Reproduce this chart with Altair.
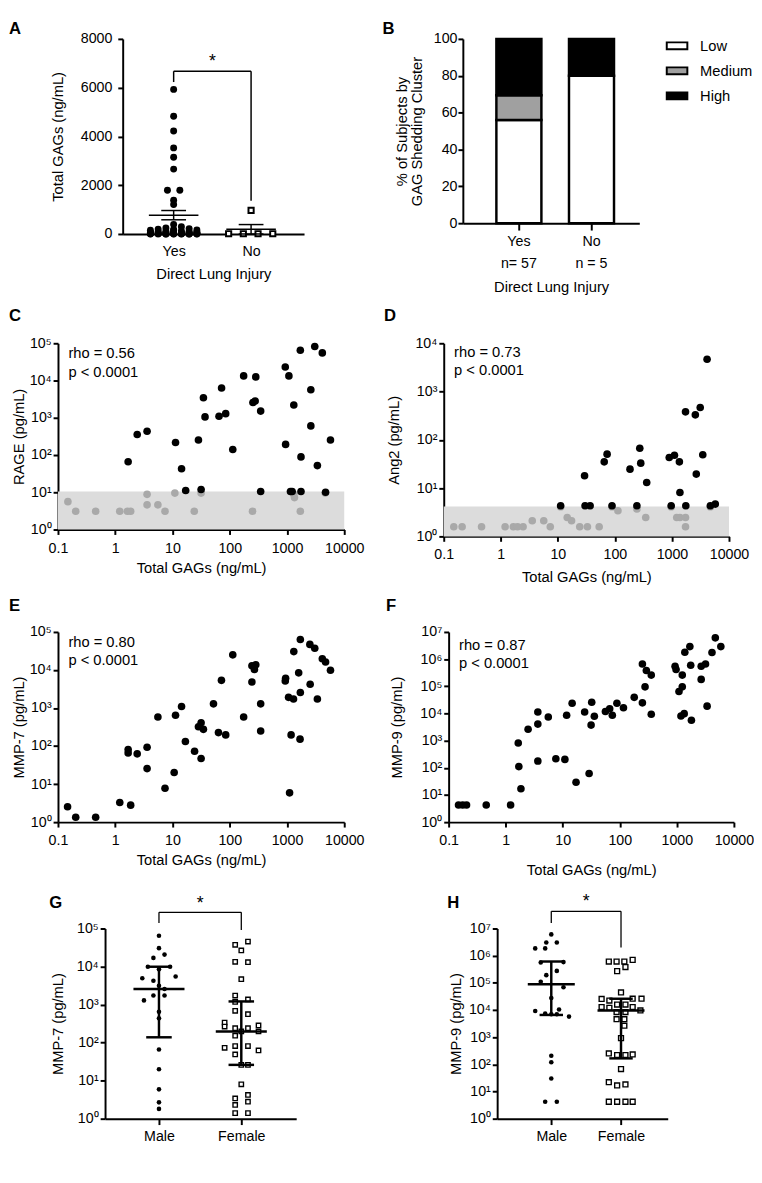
import altair as alt
import pandas as pd

FONT = "Liberation Sans"
LAB = 14.5
TIT = 15
LET = 17

SUP = ["\u2070", "\u00b9", "\u00b2", "\u00b3", "\u2074", "\u2075", "\u2076", "\u2077"]
POW_EXPR = "'10' + [" + ",".join("'%s'" % s for s in SUP) + "][round(log(datum.value) / LN10)]"

X_TICKS = [0.1, 1, 10, 100, 1000, 10000]
Y4_TICKS = [1, 10, 100, 1000, 10000]
Y5_TICKS = [1, 10, 100, 1000, 10000, 100000]
Y7_TICKS = [1, 10, 100, 1000, 10000, 100000, 1000000, 10000000]

# ---------------- Panel A: Total GAGs by direct lung injury ----------------
A_groups = ["Yes", "No"]
A_yes_gags = [5930, 4830, 4220, 3530, 3150, 2660, 1790, 1790, 1380, 1210, 390,
              300, 250, 220, 200, 180, 160, 150, 140, 120, 110,
              100, 90, 80, 70, 65, 60, 55, 50, 45, 40,
              36, 32, 30, 28, 25, 22, 20, 18, 16, 14,
              12, 11, 10, 8, 7, 6, 5, 4, 3.6, 3,
              2.4, 1.9, 1.7, 1.2, 0.5, 0.2]
A_yes_slot = [0, 0, 0, 0, 0, 0, -0.8, 0.8, 0, 0, 0,
              1, -1, 2, -2, 0, 3, -3,
              0, 1, -1, 2, -2, 3, -3,
              0, 1, -1, 2, -2, 3, -3,
              0, 1, -1, 2, -2, 3, -3,
              0, 1, -1, 2, -2, 3, -3,
              0, 1, -1, 2, -2, 3, -3,
              0, 1, -1, 2]
A_no_gags = [965, 10, 10, 10, 10]
A_no_slot = [0, -2.9, -1.0, 0.9, 2.8]
A_mean = [772, 193]
A_sem = [190, 193]
A_bracket_top = 6673
A_bracket_ends = [6231, 1367]
A_star_y = 7035

# ---------------- Panel B: GAG shedding cluster ----------------
B_groups = ["Yes", "No"]
B_n_labels = ["n= 57", "n = 5"]
B_clusters = ["Low", "Medium", "High"]
B_yes_pct = [56.0, 13.4, 30.6]
B_no_pct = [80.0, 0.0, 20.0]
B_colors = ["#ffffff", "#a0a0a0", "#000000"]

# ---------------- Panel C: RAGE vs Total GAGs ----------------
C_blk_gag = [1.68, 2.42, 3.6, 11.3, 14.4, 17, 28.4, 31.6, 34.7, 37,
             65, 85, 72, 113, 175, 254, 278, 285, 347, 347,
             933, 946, 1080, 1150, 1230, 1315, 1710, 1756, 1756, 2610,
             2610, 3055, 3395, 4140, 4720, 5750]
C_blk_rage = [66, 356, 434, 217, 43, 11.2, 254, 11.9, 3465, 1057,
              1100, 1290, 6280, 141, 13300, 2570, 2820, 12500, 1510, 10.5,
              23100, 193, 13300, 10.5, 10.5, 2200, 64700, 89, 10.5, 5680,
              605, 82000, 52, 55200, 10, 254]
C_gry_gag = [0.149, 0.204, 0.455, 1.2, 1.63, 1.86, 3.6, 3.6, 5.56, 7.4,
             11, 24, 31.6, 250, 1315, 1350, 1710, 4660]
C_gry_rage = [5.6, 3.1, 3.1, 3.1, 3.1, 3.1, 8.8, 4.6, 4.6, 3.1,
              9.5, 3.1, 9.5, 3.1, 8.8, 7.2, 3.1, 9.5]
C_lod = 10.5
C_rho = ["rho = 0.56", "p < 0.0001"]
C_rho_y = [54600, 17300]

# ---------------- Panel D: Ang2 vs Total GAGs ----------------
D_blk_gag = [11.2, 29.4, 30, 36.8, 65, 73, 89, 184, 243, 273,
             284, 361, 896, 969, 1106, 1350, 1380, 1730, 1750, 2570,
             2670, 3130, 3470, 4130, 4710, 5750]
D_blk_ang2 = [4.3, 18, 4.3, 4.3, 35, 50.5, 4.3, 24.7, 4.3, 67,
              32.9, 13.1, 43, 4.3, 48, 35, 8.1, 380, 4.3, 329,
              19.5, 467, 49, 4670, 4.3, 4.67]
D_gry_gag = [0.15, 0.21, 0.46, 1.19, 1.66, 1.97, 2.46, 3.56, 5.66, 7.37,
             11.2, 14.6, 17.4, 24.2, 33, 53, 89, 113, 243, 347,
             969, 1213, 1380, 1730, 1730, 4710]
D_gry_ang2 = [1.58, 1.58, 1.58, 1.58, 1.58, 1.58, 1.58, 2.11, 2.11, 1.58,
              4.1, 2.47, 2.11, 1.58, 1.58, 1.58, 4.1, 3.4, 3.68, 2.47,
              4.1, 2.47, 2.47, 2.47, 1.58, 4.1]
D_lod = 4.17
D_rho = ["rho = 0.73", "p < 0.0001"]
D_rho_y = [6560, 2830]

# ---------------- Panel E: MMP-7 vs Total GAGs ----------------
E_gag = [0.147, 0.204, 0.455, 1.2, 1.68, 1.68, 1.86, 2.42, 3.6, 3.6,
         5.56, 7.4, 10.7, 11.3, 14.4, 16.8, 24.3, 28.4, 31.6, 31.6,
         34.7, 52, 63.5, 71.6, 85, 113, 175, 244, 244, 270,
         285, 347, 347, 933, 946, 1065, 1110, 1180, 1300, 1315,
         1600, 1690, 1710, 1710, 2510, 2540, 3055, 3395, 4140, 4720,
         5750]
E_mmp7 = [2.53, 1.35, 1.35, 3.28, 80.7, 66, 2.8, 62.5, 92.8, 25.6,
          584, 7.8, 20.2, 644, 1100, 132, 73, 323, 409, 47,
          275, 1290, 226, 5350, 197, 25000, 584, 4850, 13000, 10300,
          13800, 1290, 249, 5150, 6030, 1910, 5.9, 197, 1730, 30500,
          8430, 152, 63400, 2570, 47200, 4220, 37200, 1730, 19800, 16200,
          9890]
E_rho = ["rho = 0.80", "p < 0.0001"]
E_rho_y = [55200, 17900]

# ---------------- Panel F: MMP-9 vs Total GAGs ----------------
F_gag = [0.149, 0.176, 0.206, 0.456, 1.22, 1.66, 1.7, 1.85, 2.47, 3.66,
         3.66, 3.66, 5.58, 7.57, 10.9, 11.7, 14.6, 17.1, 24.2, 29,
         31.4, 32.2, 35.8, 56, 66.5, 74, 89, 116, 179, 249,
         249, 277, 292, 356, 356, 931, 969, 1090, 1180, 1245,
         1245, 1346, 1380, 1690, 1750, 1800, 2670, 2670, 3180, 3390,
         4130, 4720, 5900]
F_mmp9 = [4.3, 4.3, 4.3, 4.3, 4.3, 815, 111, 16.9, 2610, 4060,
          11300, 177, 7460, 215, 204, 8570, 23900, 29.3, 11300, 62,
          3730, 25900, 7890, 11900, 14900, 8570, 23900, 16200, 39300, 24600,
          664000, 95500, 381000, 259000, 9310, 546000, 414000, 64700, 8110, 95500,
          259000, 9840, 1800000, 2900000, 593000, 5660, 180000, 546000, 664000, 18600,
          1750000, 6080000, 2900000]
F_rho = ["rho = 0.87", "p < 0.0001"]
F_rho_y = [3400000, 700000]

RHO_X = 0.152

# ---------------- Panel G: MMP-7 by sex ----------------
SEX = ["Male", "Female"]
G_male = [64700, 30500, 16900, 20600, 9890, 9890, 8440, 4940, 4220, 5460,
          3140, 2570, 1730, 1730, 1290, 644, 434, 66, 20, 5.9, 2.69, 1.81]
G_male_slot = [0, 0, -1, 1, -2, 2, 0, -3, -1, 3,
               0, 1, -1, 1, -2.7, 0, 0, 0, 0, 0, 0, 0]
G_fem = [45300, 37200, 26600, 13300, 13000, 4660, 1730, 1370, 1170, 684,
         561, 336, 265, 282, 197, 240, 240, 197, 152, 73,
         81, 81, 62.5, 49, 26, 26, 8, 3.4, 4.2, 2.3,
         2.8, 1.4, 1.4]
G_fem_slot = [1.2, -1.1, 0, -1.1, 1.2, 0, -1.1, 1.2, -1.1, -1.1,
              1.2, -3, -3, 3.1, 3.1, -1.1, 1.2, 0, -1.1, -3,
              -1.1, 1.2, 3.1, -1.1, 0, 1.2, 0, -1.1, 1.2, -1.1,
              1.2, -1.1, 1.2]
G_median = [2570, 197]
G_q1 = [138, 26]
G_q3 = [9890, 1210]
G_bracket_top = 266000
G_bracket_ends = [139000, 91500]
G_star_y = 428000

# ---------------- Panel H: MMP-9 by sex ----------------
H_male = [6080000, 1850000, 1850000, 3040000, 3040000, 560000, 580000, 110000, 192000, 275000,
          69000, 27700, 9170, 7350, 6950, 6950, 10500, 5730, 208, 119,
          30, 4.2, 4.2]
H_male_slot = [0, -2.9, -1.1, -0.9, 1, -1.9, 2.2, -1.9, -0.9, 1,
               2.2, 0, -2.9, -1.1, 0, 1, 1.4, 3.2, 0, 0,
               0, -1.1, 1]
H_fem = [610000, 610000, 610000, 700000, 380000, 270000, 44300, 25500, 22200, 26200,
         26200, 12800, 12100, 15900, 15900, 12800, 9680, 8430, 8430, 4590,
         4590, 2640, 924, 252, 219, 219, 232, 67, 22, 16.8,
         18.2, 4.2, 4.2, 4.2, 4.2]
H_fem_slot = [-2.2, -0.8, 0.6, 2.1, 0.8, -0.7, 0, -3.5, -2.1, 2.1,
              3.7, -3.5, -2.1, -0.7, 0.8, 2.1, 3.5, -0.8, 0.8, -0.8,
              0.6, 0.6, 0, -2.2, -0.7, 0.8, 2.1, 0, -2.2, -0.7,
              0.8, -2.2, -0.7, 0.8, 2.1]
H_median = [88500, 9680]
H_q1 = [6580, 166]
H_q3 = [610000, 26000]
H_bracket_top = 42800000
H_bracket_ends = [15800000, 1980000]
H_star_y = 90600000


# ---------------- helpers ----------------
def ax(**kw):
    base = dict(domainColor="black", domainWidth=2, tickColor="black", tickWidth=2, tickSize=5,
                labelFont=FONT, labelFontSize=LAB, labelColor="black",
                titleFont=FONT, titleFontSize=TIT, titleFontWeight="normal", titleColor="black",
                grid=False, labelFlush=False, labelOverlap=False)
    base.update(kw)
    return alt.Axis(**base)


def letter(t, dx, dy):
    """Bold panel letter, placed relative to the panel's plot area."""
    return alt.Chart(pd.DataFrame({"t": [t]})).mark_text(
        align="left", baseline="top", font=FONT, fontSize=LET, fontWeight="bold", color="black").encode(
        x=alt.value(dx), y=alt.value(dy), text="t:N")


def rule_layer(df, xs, ys, xa_, ya_, width):
    return alt.Chart(df).mark_rule(color="black", strokeWidth=width).encode(
        x=alt.X("x:Q", scale=xs, axis=xa_), x2=alt.X2("x2"),
        y=alt.Y("y:Q", scale=ys, axis=ya_), y2=alt.Y2("y2"))


def star_layer(y, xs, ys, xa_, ya_):
    df = pd.DataFrame({"x": [1.5], "y": [y], "t": ["*"]})
    return alt.Chart(df).mark_text(font=FONT, fontSize=18, baseline="middle", align="center", color="black").encode(
        x=alt.X("x:Q", scale=xs, axis=xa_), y=alt.Y("y:Q", scale=ys, axis=ya_), text="t:N")


def bracket_df(top, ends):
    return pd.DataFrame({"x": [1, 1, 2], "x2": [2, 1, 2],
                         "y": [top, ends[0], ends[1]], "y2": [top, top, top]})


def spacer(w):
    return alt.Chart(pd.DataFrame({"s": [0]})).mark_point(opacity=0, size=1).encode(
        x=alt.value(w / 2.0), y=alt.value(0.5)).properties(width=w, height=1)


# ---------------- Panel A ----------------
A_SLOT = 0.1
A_MEAN_HALF = 0.32
A_CAP_HALF = 0.16
xa = alt.Scale(domain=[0.342, 2.684], nice=False, zero=False)
ya = alt.Scale(domain=[0, 8000], nice=False)
a_lab = "datum.value == 1 ? '%s' : '%s'" % (A_groups[0], A_groups[1])
A_XAXIS = ax(values=[1, 2], labelExpr=a_lab, ticks=False, tickSize=0,
             labelPadding=11, title="Direct Lung Injury", titlePadding=9)
A_YAXIS = ax(values=[0, 2000, 4000, 6000, 8000], format="d", labelPadding=6,
             title="Total GAGs (ng/mL)", titlePadding=15)
df_a_yes = pd.DataFrame({"grp": 1, "v": A_yes_gags, "slot": A_yes_slot})
df_a_no = pd.DataFrame({"grp": 2, "v": A_no_gags, "slot": A_no_slot})
segs = []
for g, (m, s) in enumerate(zip(A_mean, A_sem), start=1):
    lo = max(m - s, 0)
    segs += [(g - A_MEAN_HALF, g + A_MEAN_HALF, m, m), (g, g, lo, m + s),
             (g - A_CAP_HALF, g + A_CAP_HALF, m + s, m + s), (g - A_CAP_HALF, g + A_CAP_HALF, lo, lo)]
df_a_seg = pd.DataFrame(segs, columns=["x", "x2", "y", "y2"])

a_yes = alt.Chart(df_a_yes).transform_calculate(xp="datum.grp + datum.slot * %f" % A_SLOT).mark_circle(
    size=50, color="black", opacity=1).encode(
    x=alt.X("xp:Q", scale=xa, axis=A_XAXIS), y=alt.Y("v:Q", scale=ya, axis=A_YAXIS))
a_no = alt.Chart(df_a_no).transform_calculate(xp="datum.grp + datum.slot * %f" % A_SLOT).mark_point(
    shape="square", filled=True, fill="white", stroke="black", strokeWidth=2, size=28, opacity=1).encode(
    x=alt.X("xp:Q", scale=xa, axis=A_XAXIS), y=alt.Y("v:Q", scale=ya, axis=A_YAXIS))
panel_a = alt.layer(
    a_yes, a_no, rule_layer(df_a_seg, xa, ya, A_XAXIS, A_YAXIS, 1.5),
    rule_layer(bracket_df(A_bracket_top, A_bracket_ends), xa, ya, A_XAXIS, A_YAXIS, 1.5),
    star_layer(A_star_y, xa, ya, A_XAXIS, A_YAXIS),
    letter("A", -116, -18.4)
).properties(width=185, height=199)

# ---------------- Panel B ----------------
rows = []
for g, pcts in zip(B_groups, [B_yes_pct, B_no_pct]):
    for i, (c, p) in enumerate(zip(B_clusters, pcts)):
        if p > 0:
            rows.append({"cat": g, "cluster": c, "pct": p, "idx": i})
df_b = pd.DataFrame(rows)
b_lab = "datum.value == '%s' ? ['%s', '%s'] : ['%s', '%s']" % (
    B_groups[0], B_groups[0], B_n_labels[0], B_groups[1], B_n_labels[1])
B_COLOR = alt.Scale(domain=B_clusters, range=B_colors)
b_bars = alt.Chart(df_b).mark_bar(stroke="black", strokeWidth=2.5).encode(
    x=alt.X("cat:N", sort=B_groups,
            scale=alt.Scale(paddingInner=0.38, paddingOuter=0.405, align=0.57),
            axis=ax(labelAngle=0, tickSize=7, labelPadding=5, labelExpr=b_lab, labelLineHeight=22,
                    title="Direct Lung Injury", titlePadding=10)),
    y=alt.Y("pct:Q", stack="zero", scale=alt.Scale(domain=[0, 100], nice=False),
            axis=ax(values=[0, 20, 40, 60, 80, 100], labelPadding=1,
                    title=["% of Subjects by", "GAG Shedding Cluster"], titleLineHeight=15, titlePadding=9)),
    fill=alt.Fill("cluster:N", scale=B_COLOR, legend=None),
    order=alt.Order("idx:Q", sort="ascending"),
)
panel_b = alt.layer(b_bars, letter("B", -82, -18.4)).properties(width=180, height=188)

# legend of panel B (cluster swatches)
df_leg = pd.DataFrame({"cluster": B_clusters, "idx": [0, 1, 2]})
leg_y = alt.Y("idx:Q", scale=alt.Scale(domain=[0, 2], range=[7, 58]), axis=None)
leg_sym = alt.Chart(df_leg).mark_point(shape="M-1,-0.33H1V0.33H-1Z", size=441, filled=True,
                                       stroke="black", strokeWidth=2, opacity=1).encode(
    x=alt.value(11.5), y=leg_y, fill=alt.Fill("cluster:N", scale=B_COLOR, legend=None))
leg_txt = alt.Chart(df_leg).mark_text(align="left", baseline="middle", font=FONT, fontSize=TIT,
                                      color="black").encode(x=alt.value(35), y=leg_y, text="cluster:N")
legend_b = alt.layer(leg_sym, leg_txt).properties(width=60, height=65)


# ---------------- scatter panels C-F ----------------
def scatter(L, ldx, ldy, bx, by, gx, gy, ytop, yticks, ytitle, band_top, rho, rho_y,
            w, h, ytp, xtp):
    xs = alt.Scale(type="log", domain=[0.1, 10000], nice=False)
    ys = alt.Scale(type="log", domain=[1, ytop], nice=False)
    xaxis = ax(values=X_TICKS, format=".1~f", labelPadding=7, title="Total GAGs (ng/mL)", titlePadding=xtp)
    yaxis = ax(values=yticks, labelExpr=POW_EXPR, labelPadding=2, title=ytitle, titlePadding=ytp)
    layers = []
    if band_top is not None:
        df_band = pd.DataFrame({"x0": [0.1], "x1": [10000], "y0": [1], "y1": [band_top]})
        layers.append(alt.Chart(df_band).mark_rect(color="#dcdcdc").encode(
            x=alt.X("x0:Q", scale=xs, axis=xaxis), x2=alt.X2("x1"),
            y=alt.Y("y0:Q", scale=ys, axis=yaxis), y2=alt.Y2("y1")))
    if gx:
        layers.append(alt.Chart(pd.DataFrame({"g": gx, "v": gy})).mark_circle(
            size=60, color="#a9a9a9", opacity=1).encode(
            x=alt.X("g:Q", scale=xs, axis=xaxis), y=alt.Y("v:Q", scale=ys, axis=yaxis)))
    layers.append(alt.Chart(pd.DataFrame({"g": bx, "v": by})).mark_circle(
        size=60, color="black", opacity=1).encode(
        x=alt.X("g:Q", scale=xs, axis=xaxis), y=alt.Y("v:Q", scale=ys, axis=yaxis)))
    df_t = pd.DataFrame({"x": [RHO_X, RHO_X], "y": rho_y, "t": rho})
    layers.append(alt.Chart(df_t).mark_text(font=FONT, fontSize=15, align="left", baseline="middle",
                                            color="black").encode(
        x=alt.X("x:Q", scale=xs, axis=xaxis), y=alt.Y("y:Q", scale=ys, axis=yaxis), text="t:N"))
    layers.append(letter(L, ldx, ldy))
    return alt.layer(*layers).properties(width=w, height=h)


panel_c = scatter("C", -50, -36.2, C_blk_gag, C_blk_rage, C_gry_gag, C_gry_rage, 100000, Y5_TICKS,
                  "RAGE (pg/mL)", C_lod, C_rho, C_rho_y, 292, 190, 3, 6)
panel_d = scatter("D", -61, -36.2, D_blk_gag, D_blk_ang2, D_gry_gag, D_gry_ang2, 10000, Y4_TICKS,
                  "Ang2 (pg/mL)", D_lod, D_rho, D_rho_y, 291, 197, 14, 9)
panel_e = scatter("E", -50, -34.2, E_gag, E_mmp7, [], [], 100000, Y5_TICKS,
                  "MMP-7 (pg/mL)", None, E_rho, E_rho_y, 292, 194, 3, 6)
panel_f = scatter("F", -64, -34.2, F_gag, F_mmp9, [], [], 10000000, Y7_TICKS,
                  "MMP-9 (pg/mL)", None, F_rho, F_rho_y, 291, 194, 16, 16)


# ---------------- dot plots G-H ----------------
def dotplot(L, ldx, ldy, mv, ms, fv, fs, med, q1, q3, btop, bends, stary, ytop, yticks, ytitle,
            w, h, xdom, unit, mh, ch, msize, fsize, ytp):
    xs = alt.Scale(domain=xdom, nice=False, zero=False)
    ys = alt.Scale(type="log", domain=[1, ytop], nice=False)
    lab = "datum.value == 1 ? '%s' : '%s'" % (SEX[0], SEX[1])
    xaxis = ax(values=[1, 2], labelExpr=lab, tickSize=6, labelPadding=5, title=None)
    yaxis = ax(values=yticks, labelExpr=POW_EXPR, labelPadding=2, title=ytitle, titlePadding=ytp)
    df_m = pd.DataFrame({"grp": 1, "v": mv, "slot": ms})
    df_f = pd.DataFrame({"grp": 2, "v": fv, "slot": fs})
    calc = "datum.grp + datum.slot * %f" % unit
    males = alt.Chart(df_m).transform_calculate(xp=calc).mark_circle(size=msize, color="black", opacity=1).encode(
        x=alt.X("xp:Q", scale=xs, axis=xaxis), y=alt.Y("v:Q", scale=ys, axis=yaxis))
    females = alt.Chart(df_f).transform_calculate(xp=calc).mark_point(
        shape="square", filled=True, fill="white", stroke="black", strokeWidth=1.4, size=fsize, opacity=1).encode(
        x=alt.X("xp:Q", scale=xs, axis=xaxis), y=alt.Y("v:Q", scale=ys, axis=yaxis))
    segs = []
    for g, (m, a, b) in enumerate(zip(med, q1, q3), start=1):
        segs += [(g - mh, g + mh, m, m), (g, g, a, b), (g - ch, g + ch, a, a), (g - ch, g + ch, b, b)]
    df_seg = pd.DataFrame(segs, columns=["x", "x2", "y", "y2"])
    return alt.layer(
        males, females, rule_layer(df_seg, xs, ys, xaxis, yaxis, 2.5),
        rule_layer(bracket_df(btop, bends), xs, ys, xaxis, yaxis, 1.3),
        star_layer(stary, xs, ys, xaxis, yaxis),
        letter(L, ldx, ldy)
    ).properties(width=w, height=h)


panel_g = dotplot("G", -57, -33.7, G_male, G_male_slot, G_fem, G_fem_slot, G_median, G_q1, G_q3,
                  G_bracket_top, G_bracket_ends, G_star_y, 100000, Y5_TICKS, "MMP-7 (pg/mL)",
                  195, 194, [0.345, 2.667], 0.0675, 0.31, 0.155, 22, 20, 11)
panel_h = dotplot("H", -51, -33.7, H_male, H_male_slot, H_fem, H_fem_slot, H_median, H_q1, H_q3,
                  H_bracket_top, H_bracket_ends, H_star_y, 10000000, Y7_TICKS, "MMP-9 (pg/mL)",
                  174, 194, [0.224, 2.67], 0.0795, 0.337, 0.168, 22, 25, 5)

row1 = alt.hconcat(spacer(1), alt.hconcat(panel_a, alt.hconcat(panel_b, legend_b, spacing=24), spacing=80), spacing=0)
row2 = alt.hconcat(spacer(1), alt.hconcat(panel_c, panel_d, spacing=19.5), spacing=0)
row3 = alt.hconcat(spacer(1), alt.hconcat(panel_e, panel_f, spacing=21.5), spacing=0)
row4 = alt.hconcat(spacer(42), alt.hconcat(panel_g, panel_h, spacing=154), spacing=0)

chart = alt.vconcat(
    alt.vconcat(alt.vconcat(row1, row2, spacing=11.5), row3, spacing=12), 
    row4, spacing=15.5,
).properties(padding=0, background="white").configure_view(stroke=None)

chart.save("out.html", embed_options={"renderer": "svg", "actions": False})
